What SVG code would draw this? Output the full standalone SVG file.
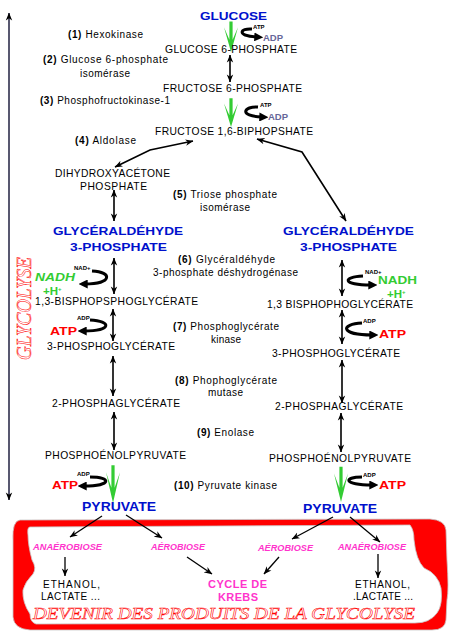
<svg xmlns="http://www.w3.org/2000/svg" xmlns:xlink="http://www.w3.org/1999/xlink" width="450" height="633" viewBox="0 0 450 633">
<defs>
<style>
text{font-family:"Liberation Sans",Arial,sans-serif;fill:#000;}
.lb{font-size:10px;}
.cp{font-size:10.3px;}
.bb{font-weight:bold;}
.blue{font-size:11.5px;font-weight:bold;fill:#0010cc;}
.pyr{font-size:12.5px;font-weight:bold;fill:#0010cc;}
.atp{font-size:11.5px;font-weight:bold;fill:#ff0000;}
.nadh{font-size:11.5px;font-weight:bold;fill:#33cc33;}
.tiny{font-size:6px;font-weight:bold;}
.adp{font-size:9.5px;font-weight:bold;fill:#666699;}
.pink{font-size:8.5px;font-weight:bold;font-style:italic;fill:#ff33cc;}
.krebs{font-size:11px;font-weight:bold;fill:#ff33cc;}
.outl{font-family:"Liberation Serif","Times New Roman",serif;font-style:italic;fill:#fff;stroke:#ff0000;stroke-width:0.55;}
.dbl{stroke:#000;stroke-width:1.6;fill:none;marker-start:url(#dh);marker-end:url(#dh);}
.one{stroke:#000;stroke-width:1.3;fill:none;marker-end:url(#dh);}
.sw{stroke:#000;stroke-width:3;fill:none;marker-end:url(#swh);}
.g{fill:#33cc33;}
</style>
<marker id="dh" viewBox="0 0 10 10" refX="9.5" refY="5" markerWidth="8" markerHeight="8" markerUnits="userSpaceOnUse" orient="auto-start-reverse"><path d="M0,1 L10,5 L0,9 L3,5z" fill="#000"/></marker>
<marker id="swh" viewBox="0 0 10 10" refX="3" refY="5" markerWidth="9" markerHeight="9" markerUnits="userSpaceOnUse" orient="auto"><path d="M0,0 L10,5 L0,10z" fill="#000"/></marker>
<polygon id="ga" points="0,0 -7,-26 -1.6,-13 -1.6,-32 1.6,-32 1.6,-13 7,-26"/>
</defs>
<rect width="450" height="633" fill="#fff"/>

<g id="frame">
<path fill="#ff0000" fill-rule="evenodd" stroke="#c8c8c8" stroke-width="0.8" d="M20,520 L430,519 Q445,520 446,530 L447,560 Q449,590 447,600 L446,620 Q445,630 432,630 L30,630 Q14,629 13,617 L13,540 Q12,521 20,520 Z M30,527 L410,525 Q414,530 414,540 Q416,560 424,568 Q438,574 441,588 Q443,605 437,613 Q430,623 415,623 L36,624 Q30,622 30,614 Q22,602 23,590 Q25,582 33,574 Q37,568 32,560 Q28,545 28,535 Q27,527 30,527 Z"/>
</g>

<g id="connectors">
<line x1="9" y1="13" x2="9" y2="500" stroke="#202040" stroke-width="1.5" marker-start="url(#dh)" marker-end="url(#dh)"/>
<line class="dbl" x1="230" y1="55" x2="230" y2="82"/>
<polyline class="dbl" points="193,141 150,150 115,167"/>
<polyline class="dbl" points="257,139 302,152 346,221"/>
<line class="dbl" x1="114" y1="190" x2="114" y2="221"/>
<line class="dbl" x1="114" y1="258" x2="114" y2="294"/>
<line class="dbl" x1="113" y1="309" x2="113" y2="341"/>
<line class="dbl" x1="113" y1="356" x2="113" y2="396"/>
<line class="dbl" x1="114" y1="412" x2="114" y2="450"/>
<line class="dbl" x1="342" y1="260" x2="342" y2="296"/>
<line class="dbl" x1="342" y1="310" x2="342" y2="344"/>
<line class="dbl" x1="342" y1="360" x2="342" y2="403" stroke="#555588"/>
<line class="dbl" x1="341" y1="413" x2="341" y2="452"/>
<use xlink:href="#ga" class="g" transform="translate(231,52) scale(1,0.95)"/>
<use xlink:href="#ga" class="g" transform="translate(231,127) scale(1,0.9)"/>
<use xlink:href="#ga" class="g" transform="translate(113,503) scale(1,1.18)"/>
<use xlink:href="#ga" class="g" transform="translate(341,502) scale(1,1.1)"/>
<path class="sw" d="M252,29 C240,28 236,36 257,37"/>
<path class="sw" d="M258,107 C244,106 238,116 262,117"/>
<path class="sw" d="M92,271 C113,272 112,284 85,284"/>
<path class="sw" d="M90,320 C112,321 112,331 84,331"/>
<path class="sw" d="M90,477 C112,477 112,486 84,486"/>
<path class="sw" d="M363,276 C342,277 342,285 371,285"/>
<path class="sw" d="M362,323 C340,324 340,335 372,335"/>
<path class="sw" d="M362,477 C343,477 343,485 372,485"/>
<line class="one" x1="102" y1="516" x2="70" y2="537"/>
<line class="one" x1="126" y1="515" x2="162" y2="538"/>
<line class="one" x1="333" y1="517" x2="292" y2="539"/>
<line class="one" x1="350" y1="517" x2="380" y2="542"/>
<line class="one" x1="65" y1="557" x2="65" y2="576"/>
<line class="one" x1="378" y1="554" x2="378" y2="578" stroke="#333366"/>
<line class="one" x1="187" y1="557" x2="212" y2="574"/>
<line class="one" x1="279" y1="557" x2="264" y2="574"/>
</g>

<g id="n-glucose"><text class="blue" x="200" y="19.5" textLength="67" lengthAdjust="spacingAndGlyphs">GLUCOSE</text></g>
<g id="n-hexo-cof"><text class="tiny" x="253" y="29">ATP</text><text class="adp" x="263" y="41">ADP</text></g>
<g id="n-g6p"><text class="cp" x="165" y="53" textLength="132" lengthAdjust="spacing">GLUCOSE 6-PHOSPHATE</text></g>
<g id="e1"><text class="lb" x="68" y="38" textLength="75"><tspan class="bb">(1)</tspan> Hexokinase</text></g>
<g id="e2"><text class="lb" x="43" y="63" textLength="125"><tspan class="bb">(2)</tspan> Glucose 6-phosphate</text><text class="lb" x="80" y="76.5" textLength="50">isomérase</text></g>
<g id="n-f6p"><text class="cp" x="163" y="91.5" textLength="139" lengthAdjust="spacing">FRUCTOSE 6-PHOSPHATE</text></g>
<g id="e3"><text class="lb" x="40" y="104" textLength="130"><tspan class="bb">(3)</tspan> Phosphofructokinase-1</text></g>
<g id="n-pfk-cof"><text class="tiny" x="260" y="107">ATP</text><text class="adp" x="268" y="120">ADP</text></g>
<g id="n-f16bp"><text class="cp" x="155" y="135" textLength="158" lengthAdjust="spacing">FRUCTOSE 1,6-BIPHOPSHATE</text></g>
<g id="e4"><text class="lb" x="75" y="144" textLength="61"><tspan class="bb">(4)</tspan> Aldolase</text></g>
<g id="n-dhap"><text class="cp" x="55" y="177" textLength="115" lengthAdjust="spacing">DIHYDROXYACÉTONE</text><text class="cp" x="80" y="190" textLength="67" lengthAdjust="spacing">PHOSPHATE</text></g>
<g id="e5"><text class="lb" x="173" y="198" textLength="104"><tspan class="bb">(5)</tspan> Triose phosphate</text><text class="lb" x="200" y="211" textLength="50">isomérase</text></g>
<g id="n-g3p-l"><text class="blue" x="53" y="235" textLength="130" lengthAdjust="spacingAndGlyphs">GLYCÉRALDÉHYDE</text><text class="blue" x="70" y="251" textLength="97" lengthAdjust="spacingAndGlyphs">3-PHOSPHATE</text></g>
<g id="n-g3p-r"><text class="blue" x="283" y="235" textLength="131" lengthAdjust="spacingAndGlyphs">GLYCÉRALDÉHYDE</text><text class="blue" x="300" y="251" textLength="97" lengthAdjust="spacingAndGlyphs">3-PHOSPHATE</text></g>
<g id="e6"><text class="lb" x="178" y="263" textLength="97"><tspan class="bb">(6)</tspan> Glycéraldéhyde</text><text class="lb" x="153" y="276" textLength="145">3-phosphate déshydrogénase</text></g>
<g id="n-nadh-l"><text class="tiny" x="74" y="270">NAD+</text><text class="nadh" x="35" y="281" font-style="italic" textLength="40" lengthAdjust="spacingAndGlyphs">NADH</text><text class="nadh" x="43" y="294.5" font-size="10.5">+H<tspan font-size="6" dy="-4">+</tspan></text></g>
<g id="n-bpg-l"><text class="cp" x="35" y="305" textLength="163" lengthAdjust="spacing">1,3-BISPHOPSPHOGLYCÉRATE</text></g>
<g id="n-nadh-r"><text class="tiny" x="365" y="274">NAD+</text><text class="nadh" x="378" y="284" textLength="39" lengthAdjust="spacingAndGlyphs">NADH</text><text class="nadh" x="387" y="297.5" font-size="10.5">+H<tspan font-size="6" dy="-4">+</tspan></text></g>
<g id="n-bpg-r"><text class="cp" x="267" y="308" textLength="146" lengthAdjust="spacing">1,3 BISPHOPHOGLYCÉRATE</text></g>
<g id="n-atp7-l"><text class="tiny" x="77" y="320">ADP</text><text class="atp" x="50" y="335" textLength="27" lengthAdjust="spacingAndGlyphs">ATP</text></g>
<g id="e7"><text class="lb" x="173" y="330" textLength="106"><tspan class="bb">(7)</tspan> Phosphoglycérate</text><text class="lb" x="211" y="343" textLength="30">kinase</text></g>
<g id="n-atp7-r"><text class="tiny" x="363" y="323">ADP</text><text class="atp" x="379" y="338" textLength="27" lengthAdjust="spacingAndGlyphs">ATP</text></g>
<g id="n-3pg-l"><text class="cp" x="47" y="350" textLength="128" lengthAdjust="spacing">3-PHOSPHOGLYCÉRATE</text></g>
<g id="n-3pg-r"><text class="cp" x="272" y="357" textLength="128" lengthAdjust="spacing">3-PHOSPHOGLYCÉRATE</text></g>
<g id="e8"><text class="lb" x="175" y="384" textLength="102"><tspan class="bb">(8)</tspan> Phophoglycérate</text><text class="lb" x="208" y="396" textLength="35">mutase</text></g>
<g id="n-2pg-l"><text class="cp" x="52" y="407" textLength="128" lengthAdjust="spacing">2-PHOSPHAGLYCÉRATE</text></g>
<g id="n-2pg-r"><text class="cp" x="275" y="410" textLength="128" lengthAdjust="spacing">2-PHOSPHAGLYCÉRATE</text></g>
<g id="e9"><text class="lb" x="197" y="436" textLength="57"><tspan class="bb">(9)</tspan> Enolase</text></g>
<g id="n-pep-l"><text class="cp" x="45" y="459" textLength="141" lengthAdjust="spacing">PHOSPHOÉNOLPYRUVATE</text></g>
<g id="n-pep-r"><text class="cp" x="269" y="462" textLength="142" lengthAdjust="spacing">PHOSPHOÉNOLPYRUVATE</text></g>
<g id="n-atp10-l"><text class="tiny" x="77" y="476">ADP</text><text class="atp" x="52" y="489" textLength="26" lengthAdjust="spacingAndGlyphs">ATP</text></g>
<g id="e10"><text class="lb" x="174" y="489" textLength="103"><tspan class="bb">(10)</tspan> Pyruvate kinase</text></g>
<g id="n-atp10-r"><text class="tiny" x="363" y="477">ADP</text><text class="atp" x="379" y="489" textLength="27" lengthAdjust="spacingAndGlyphs">ATP</text></g>
<g id="n-pyr-l"><text class="pyr" x="82" y="511" textLength="74" lengthAdjust="spacingAndGlyphs">PYRUVATE</text></g>
<g id="n-pyr-r"><text class="pyr" x="303" y="513" textLength="74" lengthAdjust="spacingAndGlyphs">PYRUVATE</text></g>
<g id="n-ana-l"><text class="pink" x="33" y="550" textLength="69" lengthAdjust="spacingAndGlyphs">ANAÉROBIOSE</text></g>
<g id="n-aero-l"><text class="pink" x="151" y="550" textLength="54" lengthAdjust="spacingAndGlyphs">AÉROBIOSE</text></g>
<g id="n-aero-r"><text class="pink" x="258" y="551" textLength="55" lengthAdjust="spacingAndGlyphs">AÉROBIOSE</text></g>
<g id="n-ana-r"><text class="pink" x="338" y="550" textLength="68" lengthAdjust="spacingAndGlyphs">ANAÉROBIOSE</text></g>
<g id="n-eth-l"><text class="lb" x="43" y="588" textLength="57" lengthAdjust="spacing">ETHANOL,</text><text class="lb" x="41" y="600" textLength="59" lengthAdjust="spacing">LACTATE ...</text></g>
<g id="n-krebs"><text class="krebs" x="208" y="588" textLength="59" lengthAdjust="spacing">CYCLE DE</text><text class="krebs" x="218" y="601" textLength="40" lengthAdjust="spacing">KREBS</text></g>
<g id="n-eth-r"><text class="lb" x="355" y="588" textLength="55" lengthAdjust="spacing">ETHANOL,</text><text class="lb" x="353" y="600" textLength="60" lengthAdjust="spacing">.LACTATE ...</text></g>
<g id="t-devenir"><text class="outl" x="33" y="619" font-size="17.5" textLength="382" lengthAdjust="spacingAndGlyphs">DEVENIR DES PRODUITS DE LA GLYCOLYSE</text></g>
<g id="t-glycolyse"><text class="outl" transform="translate(31,360) rotate(-90)" font-size="22" textLength="103" lengthAdjust="spacingAndGlyphs">GLYCOLYSE</text></g>
</svg>
